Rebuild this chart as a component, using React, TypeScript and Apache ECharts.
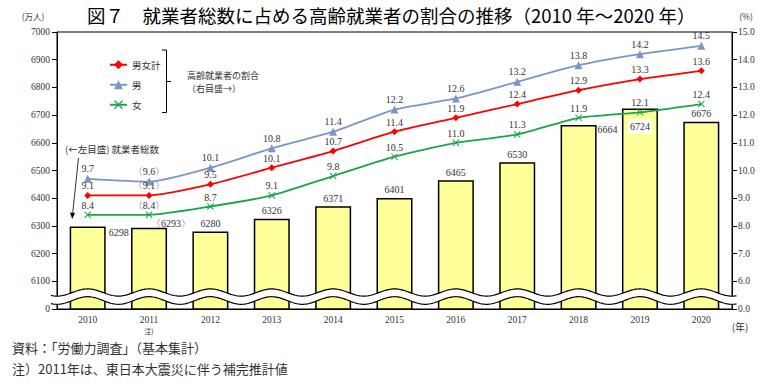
import React, { useEffect, useRef } from 'react';
import * as echarts from 'echarts';

// ---------- data ----------
const years = ['2010', '2011', '2012', '2013', '2014', '2015', '2016', '2017', '2018', '2019', '2020'];
const employedTotal = [6298, 6293, 6280, 6326, 6371, 6401, 6465, 6530, 6664, 6724, 6676];
const ratioTotal = [9.1, 9.1, 9.5, 10.1, 10.7, 11.4, 11.9, 12.4, 12.9, 13.3, 13.6];
const ratioMale = [9.7, 9.6, 10.1, 10.8, 11.4, 12.2, 12.6, 13.2, 13.8, 14.2, 14.5];
const ratioFemale = [8.4, 8.4, 8.7, 9.1, 9.8, 10.5, 11.0, 11.3, 11.9, 12.1, 12.4];
const leftAxis = { min: 6000, max: 7000, interval: 100, breakLabel: '0' };
const rightAxis = { min: 5, max: 15, interval: 1, breakLabel: '0.0' };
const seriesNames = ['男女計', '男', '女'];
const estimatedIndex = 1; // 2011 補完推計値

// ---------- layout ----------
const W = 765;
const H = 384;
const GRID = { left: 57, right: 33, top: 32, bottom: 75 };
const plotW = W - GRID.left - GRID.right;
const catW = plotW / years.length;
const SERIF = "'Liberation Serif', 'DejaVu Serif', serif";
const JP = "'Noto Sans CJK JP', 'Noto Sans', sans-serif";
const TXT = '#333';

const waveLine = (yc: number, amp: number): number[][] => {
  const pts: number[][] = [];
  const x0 = GRID.left + catW / 2;
  for (let x = 51; x <= 737; x += 1.5) {
    pts.push([x, yc - amp * Math.cos((2 * Math.PI * (x - x0)) / catW)]);
  }
  return pts;
};

const fmt1 = (v: number) => v.toFixed(1);

const barLabelOverrides: Record<number, any> = {
  0: { position: [39, 6], align: 'left', verticalAlign: 'middle' },
  1: { position: [20, -4], align: 'left', verticalAlign: 'middle', formatter: '〈{c}〉' },
  8: { position: [37, 4], align: 'left', verticalAlign: 'middle' },
  9: { position: [18, 18], align: 'center', verticalAlign: 'middle', backgroundColor: '#fff', padding: [2, 2] },
};

const xSymbol = 'path://M0,1L1,0L5,4L9,0L10,1L6,5L10,9L9,10L5,6L1,10L0,9L4,5Z';

const lineSeries = (name: string, data: number[], color: string, symbol: string, size: number) => ({
  name,
  type: 'line',
  yAxisIndex: 1,
  data,
  smooth: 0.2,
  symbol,
  symbolSize: size,
  z: 5,
  lineStyle: { color, width: 1.8 },
  itemStyle: { color },
  label: {
    show: true,
    position: 'top',
    distance: 1,
    fontSize: 10,
    fontFamily: SERIF,
    color: TXT,
    formatter: (p: any) => (p.dataIndex === estimatedIndex ? `〈${fmt1(p.value)}〉` : fmt1(p.value)),
  },
});

export default function App() {
  const ref = useRef<HTMLDivElement>(null);
  useEffect(() => {
    document.body.style.margin = '0';
    const chart = echarts.init(ref.current!, null, { renderer: 'svg' });
    const upper = waveLine(292.5, 3.6);
    const lower = waveLine(300.5, 3.8);
    const band = upper.concat(lower.slice().reverse());

    const option: any = {
      animation: false,
      grid: { ...GRID, show: true, borderColor: '#000', borderWidth: 1, backgroundColor: 'transparent' },
      legend: {
        data: seriesNames,
        orient: 'vertical',
        left: 104,
        top: 55,
        itemWidth: 17,
        itemHeight: 11,
        itemGap: 10.5,
        textStyle: { fontSize: 9.5, fontFamily: JP, color: TXT },
      },
      xAxis: {
        type: 'category',
        data: years,
        axisTick: { show: false },
        axisLine: { lineStyle: { color: '#000', width: 1 } },
        axisLabel: {
          margin: 6,
          fontSize: 9.5,
          fontFamily: SERIF,
          color: TXT,
          formatter: (v: string, i: number) => (i === estimatedIndex ? `${v}\n{n|注)}` : v),
          rich: { n: { fontSize: 7, fontFamily: JP, color: TXT, lineHeight: 12 } },
        },
      },
      yAxis: [
        {
          type: 'value',
          min: leftAxis.min,
          max: leftAxis.max,
          interval: leftAxis.interval,
          splitLine: { show: false },
          axisLine: { show: true, lineStyle: { color: '#000', width: 1 } },
          axisTick: { show: true, length: 5, lineStyle: { color: '#000' } },
          axisLabel: {
            margin: 7,
            fontSize: 9.5,
            fontFamily: SERIF,
            color: TXT,
            formatter: (v: number) => (v === leftAxis.min ? leftAxis.breakLabel : String(v)),
          },
        },
        {
          type: 'value',
          position: 'right',
          min: rightAxis.min,
          max: rightAxis.max,
          interval: rightAxis.interval,
          splitLine: { show: false },
          axisLine: { show: true, lineStyle: { color: '#000', width: 1 } },
          axisTick: { show: true, length: 5, lineStyle: { color: '#000' } },
          axisLabel: {
            margin: 6,
            fontSize: 9.5,
            fontFamily: SERIF,
            color: TXT,
            formatter: (v: number) => (v === rightAxis.min ? rightAxis.breakLabel : fmt1(v)),
          },
        },
      ],
      series: [
        {
          name: '就業者総数',
          type: 'bar',
          yAxisIndex: 0,
          barWidth: 36,
          z: 2,
          itemStyle: { color: '#FFFF99', borderColor: '#000', borderWidth: 1.5 },
          label: {
            show: true,
            position: 'top',
            distance: 3,
            fontSize: 10,
            fontFamily: SERIF,
            color: TXT,
          },
          data: employedTotal.map((v, i) => (barLabelOverrides[i] ? { value: v, label: barLabelOverrides[i] } : v)),
        },
        lineSeries(seriesNames[0], ratioTotal, '#FF0000', 'diamond', 7),
        lineSeries(seriesNames[1], ratioMale, '#7C95C8', 'triangle', 8),
        lineSeries(seriesNames[2], ratioFemale, '#1BA44A', xSymbol, 7),
      ],
      graphic: [
        {
          type: 'text',
          left: 87,
          top: 6,
          z: 100,
          style: {
            text: '図７　就業者総数に占める高齢就業者の割合の推移（2010 年～2020 年）',
            fontSize: 18.5,
            fontFamily: JP,
            fill: '#000',
          },
        },
        { type: 'text', x: 33, y: 16, z: 100, style: { text: '(万人)', fontSize: 8.5, fontFamily: JP, fill: TXT, align: 'center', verticalAlign: 'middle' } },
        { type: 'text', x: 746, y: 16, z: 100, style: { text: '(%)', fontSize: 8.5, fontFamily: JP, fill: TXT, align: 'center', verticalAlign: 'middle' } },
        { type: 'text', x: 740, y: 326, z: 100, style: { text: '(年)', fontSize: 10, fontFamily: JP, fill: TXT, align: 'center', verticalAlign: 'middle' } },
        // legend bracket
        { type: 'polyline', z: 100, shape: { points: [[162, 50], [166.5, 50], [166.5, 112.5], [162, 112.5]] }, style: { stroke: '#000', lineWidth: 1, fill: null } },
        { type: 'line', z: 100, shape: { x1: 166.5, y1: 81.5, x2: 171, y2: 81.5 }, style: { stroke: '#000', lineWidth: 1 } },
        { type: 'text', x: 187, y: 75, z: 100, style: { text: '高齢就業者の割合', fontSize: 9, fontFamily: JP, fill: TXT, verticalAlign: 'middle' } },
        { type: 'text', x: 187, y: 88.5, z: 100, style: { text: '（右目盛→）', fontSize: 9, fontFamily: JP, fill: TXT, verticalAlign: 'middle' } },
        // left annotation
        { type: 'text', x: 65, y: 149, z: 100, style: { text: '(←左目盛) 就業者総数', fontSize: 9.5, fontFamily: JP, fill: TXT, verticalAlign: 'middle' } },
        { type: 'line', z: 100, shape: { x1: 78.5, y1: 158, x2: 72.6, y2: 214 }, style: { stroke: '#000', lineWidth: 0.8 } },
        { type: 'polygon', z: 100, shape: { points: [[72.2, 219], [70, 212.5], [75, 213]] }, style: { fill: '#000' } },
        // axis break
        { type: 'polygon', z: 100, shape: { points: band }, style: { fill: '#fff' } },
        { type: 'polyline', z: 101, shape: { points: upper }, style: { stroke: '#000', lineWidth: 1.2, fill: null } },
        { type: 'polyline', z: 101, shape: { points: lower }, style: { stroke: '#000', lineWidth: 1.2, fill: null } },
        // footnotes
        { type: 'text', x: 12, y: 347, z: 100, style: { text: '資料：「労働力調査」（基本集計）', fontSize: 13, fontFamily: JP, fill: TXT, verticalAlign: 'middle' } },
        { type: 'text', x: 12, y: 368, z: 100, style: { text: '注）2011年は、東日本大震災に伴う補完推計値', fontSize: 13, fontFamily: JP, fill: TXT, verticalAlign: 'middle' } },
      ],
    };
    chart.setOption(option);
    return () => chart.dispose();
  }, []);
  return <div ref={ref} style={{ width: W, height: H }} />;
}
